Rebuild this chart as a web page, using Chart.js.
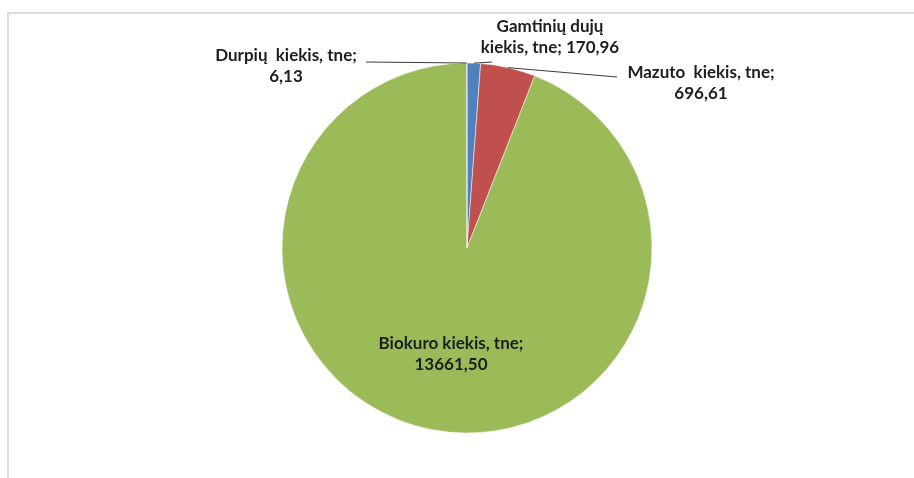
<!DOCTYPE html>
<html>
<head>
<meta charset="utf-8">
<script src="https://cdn.jsdelivr.net/npm/chart.js@4.4.0/dist/chart.umd.min.js"></script>
<style>
  html, body { margin: 0; padding: 0; background: #fff; }
  #wrap { position: relative; width: 914px; height: 478px; overflow: hidden; }
  #frame { position: absolute; left: 7px; top: 12px; width: 920px; height: 480px; border: 2px solid #dcdcdc; box-sizing: border-box; }
  canvas { position: absolute; left: 0; top: 0; }
</style>
</head>
<body>
<div id="wrap">
  <div id="frame"></div>
  <canvas id="pieChart" width="914" height="478"></canvas>
</div>
<script>
// Fuel amounts, tne (slice order as in the original workbook)
const categories = ['Gamtinių dujų kiekis, tne', 'Mazuto  kiekis, tne', 'Biokuro kiekis, tne', 'Durpių  kiekis, tne'];
const values = [170.96, 696.61, 13661.50, 6.13];
const valueLabels = ['170,96', '696,61', '13661,50', '6,13'];
const colors = ['#4f81bd', '#c0504d', '#9bbb59', '#8064a2'];

// Data label text lines for each slice
const labelLines = [
  ['Gamtinių dujų', 'kiekis, tne; 170,96'],
  ['Mazuto  kiekis, tne;', '696,61'],
  ['Biokuro kiekis, tne;', '13661,50'],
  ['Durpių  kiekis, tne;', '6,13']
];

// label centre positions and where each leader line leaves the text
const labelPos = [
  { x: 550, y: 27, lineFrom: { x: 492, y: 62 } },
  { x: 701, y: 73, lineFrom: { x: 617, y: 77 } },
  { x: 451, y: 344, lineFrom: null },
  { x: 286, y: 56, lineFrom: { x: 366, y: 62 } }
];

const labelFont = 'bold 17px Lato, "Open Sans", sans-serif';
const lineHeight = 21;

// Custom plugin for data labels + leader lines
const pieLabels = {
  id: 'pieLabels',
  afterDraw(chart) {
    const ctx = chart.ctx;
    const meta = chart.getDatasetMeta(0);
    ctx.save();
    meta.data.forEach((arc, i) => {
      const pos = labelPos[i];
      if (pos.lineFrom) {
        const mid = (arc.startAngle + arc.endAngle) / 2;
        const tx = arc.x + Math.cos(mid) * arc.outerRadius;
        const ty = arc.y + Math.sin(mid) * arc.outerRadius;
        ctx.beginPath();
        ctx.strokeStyle = '#3a3a3a';
        ctx.lineWidth = 1;
        ctx.moveTo(pos.lineFrom.x, pos.lineFrom.y);
        ctx.lineTo(tx, ty);
        ctx.stroke();
      }
      ctx.fillStyle = '#1e1e1e';
      ctx.font = labelFont;
      ctx.textAlign = 'center';
      ctx.textBaseline = 'middle';
      labelLines[i].forEach((line, j) => {
        ctx.fillText(line, pos.x, pos.y + j * lineHeight);
      });
    });
    ctx.restore();
  }
};

const ctx = document.getElementById('pieChart').getContext('2d');
const pieChart = new Chart(ctx, {
  type: 'pie',
  data: {
    labels: categories,
    datasets: [{
      data: values,
      backgroundColor: colors,
      borderColor: '#ffffff',
      borderWidth: 0.5
    }]
  },
  options: {
    responsive: false,
    animation: false,
    radius: 185,
    layout: { padding: { left: 20, right: 0, top: 18, bottom: 0 } },
    plugins: {
      legend: { display: false },
      tooltip: { enabled: false }
    }
  },
  plugins: [pieLabels]
});
</script>
</body>
</html>
